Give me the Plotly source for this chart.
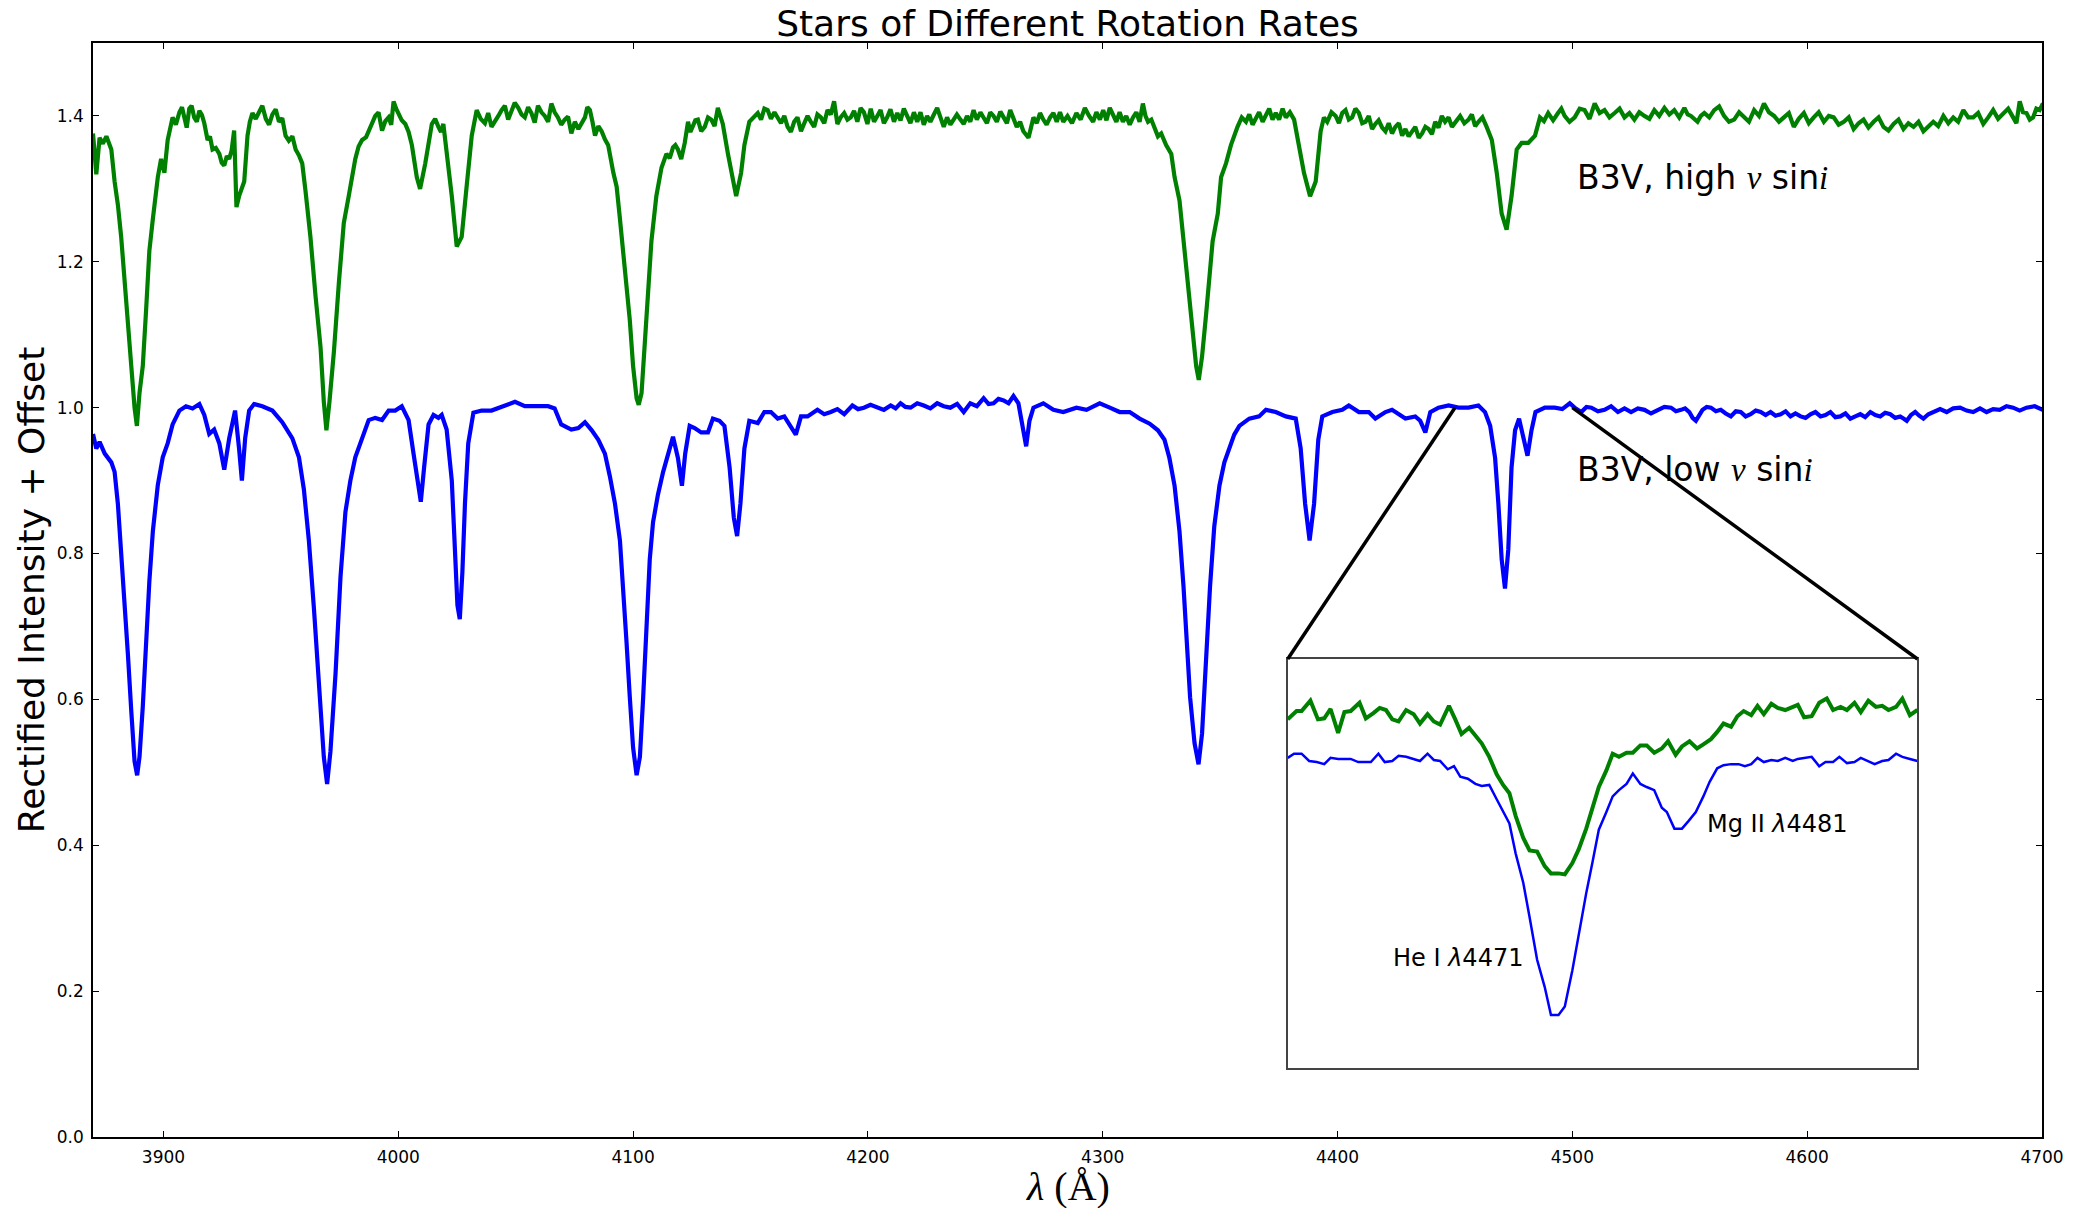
import plotly.graph_objects as go

TITLE = "Stars of Different Rotation Rates"
X_TICKS = [3900, 4000, 4100, 4200, 4300, 4400, 4500, 4600, 4700]
Y_TICKS = [0.0, 0.2, 0.4, 0.6, 0.8, 1.0, 1.2, 1.4]
Y_TICK_TEXT = ["0.0", "0.2", "0.4", "0.6", "0.8", "1.0", "1.2", "1.4"]

# B3V, high v sin i (offset +0.4)
wl_high = [
    3870.0, 3871.4, 3872.8, 3874.2, 3875.7, 3877.8, 3879.2, 3880.6, 3882.0, 3883.4,
    3884.9, 3886.3, 3887.7, 3888.7, 3889.8, 3891.2, 3892.6, 3894.0, 3895.5, 3897.6,
    3899.0, 3900.4, 3901.8, 3903.9, 3905.3, 3906.8, 3907.9, 3908.9, 3909.9, 3911.0,
    3912.0, 3913.1, 3914.2, 3915.3, 3916.4, 3917.4, 3918.8, 3919.8, 3920.9, 3922.3,
    3923.8, 3924.8, 3925.9, 3927.0, 3928.0, 3929.0, 3930.1, 3931.1, 3932.2, 3934.4,
    3935.8, 3936.8, 3937.9, 3939.3, 3940.7, 3942.1, 3943.6, 3945.0, 3946.4, 3947.8,
    3949.2, 3950.6, 3952.0, 3953.4, 3954.9, 3956.3, 3957.7, 3959.1, 3960.5, 3962.6,
    3964.8, 3966.9, 3968.3, 3969.4, 3970.7, 3972.6, 3974.7, 3976.8, 3978.9, 3981.7,
    3983.1, 3984.6, 3986.3, 3988.1, 3989.1, 3990.2, 3991.6, 3993.1, 3994.5, 3995.9,
    3997.0, 3998.0, 3999.1, 4000.1, 4001.5, 4003.0, 4004.4, 4005.8, 4007.9, 4009.3,
    4011.5, 4014.3, 4015.7, 4017.1, 4018.2, 4019.2, 4020.6, 4022.8, 4024.9, 4027.0,
    4029.1, 4031.3, 4033.4, 4035.1, 4036.9, 4038.3, 4039.7, 4041.2, 4042.6, 4044.0,
    4045.4, 4046.8, 4048.2, 4049.6, 4051.1, 4052.5, 4053.9, 4055.3, 4056.7, 4058.1,
    4059.5, 4061.0, 4062.4, 4063.8, 4065.2, 4066.6, 4068.0, 4069.4, 4070.9, 4072.3,
    4073.7, 4075.2, 4076.7, 4078.1, 4079.5, 4080.5, 4081.6, 4082.7, 4083.8, 4085.2,
    4086.6, 4088.0, 4089.4, 4091.6, 4093.0, 4094.4, 4095.8, 4097.2, 4098.6, 4100.0,
    4101.5, 4102.4, 4103.6, 4105.0, 4106.4, 4107.8, 4109.9, 4112.1, 4114.2, 4115.6,
    4117.0, 4118.0, 4119.1, 4120.5, 4122.0, 4123.4, 4124.4, 4125.5, 4126.5, 4127.6,
    4129.0, 4130.5, 4131.9, 4133.3, 4134.7, 4136.1, 4137.1, 4138.2, 4140.4, 4142.1,
    4143.9, 4146.0, 4147.4, 4149.5, 4151.3, 4153.1, 4154.5, 4155.9, 4157.3, 4158.7,
    4160.2, 4161.6, 4163.0, 4164.4, 4165.8, 4167.2, 4168.6, 4170.0, 4171.5, 4172.9,
    4174.3, 4175.7, 4177.1, 4178.5, 4180.0, 4181.4, 4182.8, 4184.2, 4185.6, 4187.0,
    4188.4, 4189.9, 4191.3, 4192.7, 4194.1, 4195.5, 4196.9, 4198.3, 4199.8, 4201.2,
    4202.6, 4204.0, 4205.4, 4206.8, 4208.2, 4209.6, 4211.1, 4212.5, 4213.9, 4215.3,
    4216.7, 4218.1, 4219.6, 4221.0, 4222.4, 4223.8, 4225.2, 4226.6, 4228.1, 4229.5,
    4230.9, 4232.3, 4233.7, 4235.1, 4236.5, 4237.9, 4239.4, 4240.8, 4242.2, 4243.6,
    4245.0, 4246.4, 4247.9, 4249.3, 4250.7, 4252.1, 4253.5, 4254.9, 4256.4, 4257.8,
    4259.2, 4260.6, 4262.0, 4263.4, 4264.8, 4266.2, 4268.4, 4270.5, 4271.9, 4273.3,
    4274.7, 4276.1, 4277.6, 4279.0, 4280.4, 4281.8, 4283.2, 4285.0, 4286.9, 4288.8,
    4290.6, 4292.4, 4294.2, 4295.9, 4297.3, 4298.8, 4300.2, 4301.6, 4303.0, 4304.4,
    4305.8, 4307.2, 4308.6, 4310.0, 4311.5, 4312.9, 4314.3, 4315.7, 4317.1, 4318.2,
    4319.3, 4320.7, 4322.1, 4323.5, 4324.9, 4327.0, 4329.2, 4330.6, 4332.7, 4334.1,
    4335.5, 4336.9, 4338.4, 4339.8, 4340.9, 4342.3, 4344.0, 4345.4, 4346.8, 4349.0,
    4350.4, 4352.5, 4354.6, 4357.4, 4359.2, 4361.0, 4362.4, 4363.8, 4365.2, 4366.6,
    4368.1, 4369.5, 4370.9, 4372.3, 4373.7, 4375.1, 4376.6, 4378.0, 4379.7, 4381.5,
    4383.6, 4385.7, 4388.3, 4390.7, 4392.8, 4394.2, 4395.6, 4397.4, 4399.2, 4400.6,
    4402.0, 4403.4, 4404.8, 4406.2, 4407.6, 4409.1, 4410.5, 4411.9, 4413.3, 4414.7,
    4416.1, 4417.5, 4419.0, 4420.4, 4421.8, 4423.2, 4424.6, 4426.1, 4427.5, 4428.9,
    4430.3, 4431.7, 4433.1, 4434.6, 4436.0, 4437.4, 4438.8, 4440.2, 4441.6, 4443.0,
    4444.4, 4445.8, 4447.3, 4448.7, 4450.5, 4452.2, 4454.0, 4455.8, 4457.2, 4458.6,
    4460.0, 4461.7, 4463.5, 4465.7, 4467.8, 4469.9, 4472.0, 4474.1, 4476.3, 4478.4,
    4481.2, 4484.1, 4486.2, 4487.9, 4489.7, 4491.8, 4493.9, 4495.3, 4496.7, 4498.8,
    4501.0, 4503.1, 4505.2, 4507.3, 4509.5, 4511.6, 4513.7, 4515.8, 4518.0, 4520.1,
    4522.2, 4524.3, 4526.4, 4528.5, 4530.7, 4532.8, 4534.9, 4537.0, 4539.2, 4541.3,
    4543.4, 4545.5, 4547.7, 4549.1, 4550.5, 4551.9, 4553.3, 4554.7, 4556.2, 4558.3,
    4560.4, 4562.5, 4564.6, 4566.7, 4568.9, 4571.0, 4573.1, 4575.2, 4577.4, 4579.5,
    4581.6, 4583.7, 4585.9, 4588.0, 4590.1, 4592.2, 4594.3, 4596.4, 4598.6, 4600.7,
    4602.8, 4604.9, 4607.1, 4609.2, 4611.3, 4613.4, 4615.6, 4617.7, 4619.8, 4621.9,
    4624.0, 4626.1, 4628.3, 4630.4, 4632.5, 4634.6, 4636.8, 4638.9, 4641.0, 4643.1,
    4645.3, 4647.4, 4649.5, 4651.6, 4653.7, 4655.8, 4658.0, 4660.1, 4662.2, 4664.3,
    4666.5, 4668.6, 4670.7, 4672.8, 4675.0, 4677.1, 4679.2, 4681.3, 4683.5, 4685.6,
    4687.7, 4689.1, 4690.5, 4691.9, 4693.4, 4694.8, 4696.2, 4697.6, 4699.0, 4700.4,
]
flux_high = [
    1.376, 1.320, 1.370, 1.362, 1.372, 1.354, 1.310, 1.278, 1.234, 1.171,
    1.120, 1.057, 1.000, 0.975, 1.020, 1.057, 1.133, 1.215, 1.259, 1.316,
    1.341, 1.322, 1.367, 1.398, 1.388, 1.405, 1.412, 1.395, 1.384, 1.410,
    1.414, 1.398, 1.392, 1.407, 1.401, 1.390, 1.367, 1.372, 1.354, 1.356,
    1.348, 1.336, 1.332, 1.345, 1.341, 1.352, 1.380, 1.275, 1.290, 1.310,
    1.373, 1.392, 1.404, 1.396, 1.405, 1.414, 1.396, 1.388, 1.402, 1.409,
    1.392, 1.397, 1.373, 1.366, 1.372, 1.354, 1.346, 1.335, 1.297, 1.234,
    1.152, 1.083, 1.008, 0.969, 1.008, 1.077, 1.171, 1.253, 1.290, 1.341,
    1.358, 1.367, 1.371, 1.385, 1.392, 1.400, 1.405, 1.380, 1.393, 1.398,
    1.388, 1.420, 1.410, 1.404, 1.394, 1.389, 1.378, 1.360, 1.316, 1.300,
    1.335, 1.389, 1.396, 1.385, 1.378, 1.389, 1.354, 1.290, 1.221, 1.234,
    1.303, 1.373, 1.408, 1.396, 1.390, 1.404, 1.385, 1.392, 1.400, 1.408,
    1.414, 1.395, 1.408, 1.418, 1.411, 1.402, 1.398, 1.412, 1.404, 1.391,
    1.414, 1.405, 1.400, 1.392, 1.417, 1.405, 1.398, 1.388, 1.395, 1.399,
    1.376, 1.392, 1.382, 1.390, 1.398, 1.412, 1.408, 1.392, 1.373, 1.386,
    1.379, 1.368, 1.360, 1.322, 1.303, 1.259, 1.215, 1.177, 1.120, 1.057,
    1.013, 1.004, 1.020, 1.089, 1.171, 1.228, 1.290, 1.329, 1.348, 1.342,
    1.357, 1.360, 1.354, 1.341, 1.363, 1.392, 1.378, 1.385, 1.394, 1.395,
    1.379, 1.385, 1.398, 1.395, 1.386, 1.411, 1.398, 1.389, 1.348, 1.316,
    1.290, 1.322, 1.360, 1.392, 1.398, 1.404, 1.395, 1.410, 1.408, 1.396,
    1.405, 1.398, 1.390, 1.400, 1.385, 1.378, 1.392, 1.398, 1.379, 1.390,
    1.400, 1.392, 1.385, 1.402, 1.398, 1.390, 1.408, 1.402, 1.420, 1.389,
    1.398, 1.404, 1.395, 1.398, 1.407, 1.392, 1.411, 1.405, 1.389, 1.410,
    1.392, 1.400, 1.408, 1.390, 1.398, 1.409, 1.392, 1.404, 1.394, 1.410,
    1.398, 1.390, 1.405, 1.392, 1.405, 1.388, 1.400, 1.392, 1.402, 1.411,
    1.398, 1.385, 1.398, 1.388, 1.395, 1.402, 1.395, 1.389, 1.400, 1.392,
    1.408, 1.395, 1.405, 1.398, 1.390, 1.405, 1.400, 1.392, 1.406, 1.398,
    1.390, 1.408, 1.395, 1.385, 1.392, 1.379, 1.370, 1.398, 1.390, 1.404,
    1.395, 1.388, 1.398, 1.404, 1.392, 1.405, 1.392, 1.400, 1.390, 1.404,
    1.395, 1.411, 1.400, 1.392, 1.405, 1.395, 1.408, 1.394, 1.411, 1.400,
    1.392, 1.405, 1.392, 1.400, 1.388, 1.398, 1.405, 1.392, 1.417, 1.400,
    1.392, 1.395, 1.382, 1.372, 1.376, 1.360, 1.348, 1.316, 1.284, 1.240,
    1.196, 1.146, 1.101, 1.057, 1.038, 1.070, 1.127, 1.184, 1.228, 1.266,
    1.316, 1.335, 1.360, 1.385, 1.398, 1.392, 1.402, 1.388, 1.398, 1.405,
    1.392, 1.400, 1.410, 1.395, 1.404, 1.395, 1.410, 1.398, 1.405, 1.395,
    1.360, 1.322, 1.290, 1.310, 1.379, 1.398, 1.392, 1.405, 1.400, 1.390,
    1.404, 1.408, 1.395, 1.398, 1.410, 1.404, 1.390, 1.392, 1.400, 1.382,
    1.389, 1.394, 1.384, 1.379, 1.390, 1.376, 1.385, 1.390, 1.373, 1.382,
    1.372, 1.379, 1.385, 1.370, 1.376, 1.385, 1.382, 1.375, 1.392, 1.384,
    1.400, 1.392, 1.398, 1.385, 1.392, 1.400, 1.390, 1.395, 1.402, 1.386,
    1.392, 1.398, 1.385, 1.367, 1.322, 1.266, 1.244, 1.290, 1.354, 1.363,
    1.363, 1.373, 1.398, 1.393, 1.404, 1.394, 1.404, 1.410, 1.400, 1.392,
    1.398, 1.410, 1.408, 1.396, 1.417, 1.404, 1.408, 1.398, 1.404, 1.410,
    1.398, 1.404, 1.395, 1.405, 1.400, 1.396, 1.408, 1.400, 1.411, 1.402,
    1.408, 1.398, 1.411, 1.402, 1.400, 1.395, 1.392, 1.400, 1.404, 1.398,
    1.408, 1.413, 1.400, 1.392, 1.395, 1.405, 1.398, 1.392, 1.408, 1.400,
    1.417, 1.405, 1.400, 1.392, 1.398, 1.404, 1.385, 1.396, 1.404, 1.390,
    1.398, 1.405, 1.392, 1.400, 1.398, 1.388, 1.392, 1.398, 1.382, 1.390,
    1.395, 1.384, 1.392, 1.398, 1.385, 1.380, 1.389, 1.395, 1.382, 1.390,
    1.385, 1.392, 1.379, 1.386, 1.392, 1.386, 1.400, 1.390, 1.398, 1.392,
    1.408, 1.398, 1.398, 1.404, 1.389, 1.398, 1.408, 1.396, 1.404, 1.410,
    1.398, 1.390, 1.420, 1.405, 1.404, 1.395, 1.398, 1.410, 1.408, 1.417,
]

# B3V, low v sin i
wl_low = [
    3870.0, 3871.4, 3872.8, 3875.0, 3877.8, 3879.2, 3880.6, 3882.0, 3883.4, 3884.9,
    3886.3, 3887.7, 3888.8, 3889.8, 3891.2, 3892.6, 3894.0, 3895.5, 3897.6, 3899.7,
    3901.8, 3903.9, 3906.8, 3909.6, 3912.4, 3915.3, 3917.4, 3919.5, 3921.6, 3923.8,
    3925.9, 3928.0, 3930.5, 3932.2, 3933.4, 3934.8, 3936.5, 3938.6, 3942.1, 3946.4,
    3950.6, 3954.9, 3957.7, 3959.8, 3961.9, 3964.1, 3966.2, 3968.3, 3969.7, 3971.1,
    3973.3, 3975.4, 3977.5, 3979.6, 3981.7, 3984.6, 3987.4, 3990.2, 3993.1, 3995.9,
    3998.7, 4001.5, 4004.4, 4006.5, 4008.3, 4009.6, 4011.0, 4012.9, 4015.0, 4017.1,
    4018.5, 4020.6, 4022.8, 4024.2, 4025.2, 4026.2, 4027.3, 4028.4, 4029.8, 4032.0,
    4035.5, 4039.7, 4045.4, 4049.7, 4053.9, 4058.2, 4063.8, 4066.6, 4069.4, 4073.7,
    4076.7, 4079.5, 4082.4, 4085.2, 4088.0, 4090.1, 4092.3, 4094.4, 4095.8, 4097.2,
    4098.6, 4100.0, 4101.5, 4102.9, 4104.3, 4105.7, 4107.1, 4108.5, 4110.6, 4112.8,
    4114.9, 4117.0, 4119.1, 4120.8, 4122.2, 4124.1, 4126.2, 4129.0, 4131.9, 4134.0,
    4136.8, 4138.9, 4141.1, 4142.9, 4144.3, 4145.7, 4147.4, 4149.5, 4153.1, 4155.9,
    4158.7, 4161.6, 4164.4, 4167.2, 4169.3, 4171.5, 4174.3, 4178.5, 4181.4, 4184.2,
    4187.0, 4189.9, 4191.6, 4193.4, 4195.8, 4198.3, 4201.1, 4204.0, 4206.8, 4209.7,
    4211.8, 4213.9, 4216.0, 4218.2, 4221.0, 4223.8, 4226.6, 4229.5, 4232.3, 4235.1,
    4238.0, 4240.8, 4243.6, 4246.4, 4249.3, 4251.4, 4253.5, 4255.6, 4257.8, 4259.9,
    4262.0, 4264.1, 4266.2, 4267.4, 4268.8, 4270.5, 4274.7, 4279.0, 4283.2, 4288.8,
    4293.1, 4298.7, 4303.0, 4307.2, 4311.5, 4315.7, 4320.0, 4323.5, 4326.3, 4328.4,
    4330.6, 4332.7, 4334.4, 4335.8, 4337.2, 4339.1, 4340.8, 4342.3, 4344.0, 4345.7,
    4347.5, 4349.7, 4351.8, 4353.9, 4356.0, 4358.2, 4362.4, 4366.6, 4369.5, 4373.7,
    4378.0, 4382.2, 4384.3, 4386.2, 4388.1, 4390.0, 4391.8, 4393.5, 4397.8, 4402.0,
    4404.8, 4409.1, 4413.3, 4416.1, 4420.4, 4423.2, 4426.1, 4428.9, 4433.1, 4435.2,
    4437.4, 4439.5, 4443.0, 4447.3, 4451.5, 4455.8, 4460.0, 4462.8, 4465.0, 4467.1,
    4468.5, 4469.9, 4471.3, 4472.7, 4474.1, 4475.6, 4477.3, 4479.1, 4480.9, 4482.6,
    4484.3, 4488.3, 4492.5, 4495.7, 4498.9, 4501.3, 4503.8, 4506.0, 4508.1, 4510.9,
    4513.7, 4516.5, 4519.4, 4522.2, 4525.0, 4527.9, 4530.7, 4533.5, 4536.3, 4539.2,
    4542.0, 4544.1, 4546.3, 4548.0, 4549.8, 4551.2, 4552.6, 4554.0, 4555.4, 4557.2,
    4559.0, 4561.1, 4563.2, 4565.3, 4567.5, 4569.6, 4571.7, 4573.8, 4575.9, 4578.1,
    4580.2, 4582.3, 4584.4, 4586.5, 4588.7, 4590.8, 4592.9, 4595.0, 4597.2, 4599.3,
    4601.4, 4603.5, 4605.7, 4607.8, 4609.9, 4612.0, 4614.1, 4616.3, 4618.4, 4620.5,
    4622.6, 4624.7, 4626.9, 4629.0, 4631.1, 4633.2, 4635.4, 4637.5, 4639.6, 4641.0,
    4642.4, 4644.2, 4646.0, 4647.7, 4649.5, 4651.6, 4653.7, 4656.6, 4659.4, 4662.2,
    4665.1, 4667.9, 4670.7, 4673.6, 4676.4, 4679.2, 4682.0, 4684.9, 4687.7, 4690.5,
    4693.4, 4696.9, 4700.4,
]
flux_low = [
    0.964, 0.944, 0.953, 0.937, 0.925, 0.912, 0.868, 0.805, 0.742, 0.660,
    0.584, 0.515, 0.496, 0.521, 0.590, 0.680, 0.762, 0.831, 0.894, 0.932,
    0.951, 0.977, 0.996, 1.002, 0.999, 1.005, 0.990, 0.964, 0.970, 0.951,
    0.915, 0.958, 0.996, 0.944, 0.900, 0.958, 0.996, 1.005, 1.002, 0.996,
    0.980, 0.958, 0.932, 0.888, 0.819, 0.724, 0.617, 0.521, 0.484, 0.528,
    0.636, 0.768, 0.857, 0.900, 0.932, 0.958, 0.983, 0.986, 0.983, 0.996,
    0.996, 1.002, 0.983, 0.937, 0.894, 0.871, 0.918, 0.977, 0.990, 0.986,
    0.990, 0.970, 0.900, 0.805, 0.729, 0.710, 0.774, 0.868, 0.951, 0.993,
    0.996, 0.996, 1.002, 1.008, 1.002, 1.002, 1.002, 0.999, 0.977, 0.970,
    0.972, 0.980, 0.969, 0.956, 0.937, 0.906, 0.868, 0.818, 0.755, 0.679,
    0.603, 0.534, 0.496, 0.521, 0.603, 0.710, 0.792, 0.843, 0.881, 0.912,
    0.937, 0.960, 0.931, 0.893, 0.937, 0.975, 0.972, 0.966, 0.966, 0.985,
    0.982, 0.975, 0.918, 0.849, 0.824, 0.868, 0.944, 0.982, 0.979, 0.994,
    0.994, 0.985, 0.988, 0.975, 0.963, 0.988, 0.988, 0.997, 0.991, 0.994,
    0.998, 0.991, 0.996, 1.003, 0.998, 1.000, 1.004, 1.000, 0.997, 1.003,
    0.999, 1.006, 1.001, 1.000, 1.006, 1.003, 0.999, 1.006, 1.002, 1.000,
    1.005, 0.994, 1.006, 1.002, 1.013, 1.005, 1.006, 1.012, 1.010, 1.006,
    1.016, 1.006, 0.969, 0.947, 0.982, 1.000, 1.006, 0.997, 0.994, 1.000,
    0.997, 1.006, 1.000, 0.994, 0.994, 0.985, 0.978, 0.969, 0.956, 0.931,
    0.893, 0.830, 0.755, 0.679, 0.603, 0.540, 0.511, 0.553, 0.660, 0.755,
    0.837, 0.893, 0.925, 0.944, 0.963, 0.975, 0.985, 0.988, 0.997, 0.994,
    0.988, 0.985, 0.944, 0.868, 0.818, 0.868, 0.956, 0.988, 0.994, 0.997,
    1.003, 0.994, 0.994, 0.985, 0.994, 0.997, 0.991, 0.985, 0.988, 0.982,
    0.966, 0.994, 1.000, 1.003, 1.000, 1.000, 1.003, 0.994, 0.975, 0.931,
    0.868, 0.792, 0.752, 0.805, 0.918, 0.969, 0.985, 0.956, 0.934, 0.969,
    0.994, 1.000, 1.000, 0.998, 1.006, 0.999, 0.994, 1.001, 1.000, 0.995,
    0.997, 1.002, 0.994, 0.999, 0.994, 0.999, 0.997, 0.992, 0.997, 1.001,
    1.000, 0.995, 0.997, 0.999, 0.994, 0.986, 0.982, 0.990, 0.997, 1.001,
    1.000, 0.995, 0.997, 0.992, 0.988, 0.995, 0.994, 0.988, 0.991, 0.996,
    0.994, 0.990, 0.994, 0.989, 0.991, 0.995, 0.988, 0.992, 0.988, 0.986,
    0.991, 0.994, 0.988, 0.990, 0.994, 0.987, 0.988, 0.992, 0.985, 0.988,
    0.991, 0.987, 0.994, 0.990, 0.988, 0.993, 0.991, 0.986, 0.988, 0.985,
    0.982, 0.990, 0.994, 0.989, 0.985, 0.991, 0.994, 0.998, 0.994, 0.999,
    1.000, 0.996, 0.994, 0.999, 0.994, 0.998, 0.997, 1.002, 1.000, 0.996,
    1.000, 1.002, 0.997,
]

# Inset: He I 4471 / Mg II 4481 region
zoom_wl_high = [
    4450.0, 4450.7, 4451.1, 4451.8, 4452.4, 4452.9, 4453.4, 4454.0, 4454.5, 4455.0,
    4455.7, 4456.2, 4456.8, 4457.3, 4457.8, 4458.3, 4458.8, 4459.4, 4460.0, 4460.5,
    4461.1, 4461.6, 4462.1, 4462.8, 4463.3, 4463.8, 4464.4, 4464.9, 4465.4, 4466.0,
    4466.6, 4467.1, 4467.6, 4468.1, 4468.7, 4469.2, 4469.8, 4470.4, 4470.9, 4471.5,
    4472.0, 4472.6, 4473.1, 4473.7, 4474.2, 4474.7, 4475.3, 4475.8, 4476.3, 4476.9,
    4477.4, 4478.0, 4478.5, 4479.1, 4479.7, 4480.2, 4480.8, 4481.3, 4481.9, 4482.5,
    4483.0, 4483.6, 4484.1, 4484.6, 4485.2, 4485.7, 4486.2, 4486.8, 4487.3, 4487.8,
    4488.4, 4488.9, 4489.5, 4490.0, 4490.5, 4491.0, 4491.6, 4492.2, 4492.8, 4493.3,
    4493.9, 4494.4, 4495.0, 4495.5, 4496.1, 4496.7, 4497.2, 4497.7, 4498.3, 4498.8,
    4499.4, 4500.0,
]
zoom_flux_high = [
    1.036, 1.044, 1.044, 1.054, 1.036, 1.037, 1.046, 1.023, 1.043, 1.044,
    1.052, 1.037, 1.042, 1.047, 1.045, 1.036, 1.034, 1.045, 1.041, 1.032,
    1.041, 1.034, 1.031, 1.049, 1.036, 1.022, 1.028, 1.020, 1.013, 1.000,
    0.983, 0.973, 0.965, 0.943, 0.922, 0.910, 0.909, 0.895, 0.888, 0.888,
    0.887, 0.898, 0.911, 0.931, 0.952, 0.971, 0.987, 1.003, 1.000, 1.004,
    1.004, 1.011, 1.011, 1.004, 1.008, 1.015, 1.002, 1.010, 1.015, 1.008,
    1.012, 1.017, 1.024, 1.032, 1.029, 1.039, 1.044, 1.040, 1.049, 1.041,
    1.051, 1.047, 1.045, 1.048, 1.050, 1.038, 1.039, 1.052, 1.056, 1.045,
    1.048, 1.045, 1.052, 1.043, 1.054, 1.048, 1.049, 1.045, 1.048, 1.056,
    1.040, 1.045,
]
zoom_wl_low = [
    4450.0, 4450.5, 4451.1, 4451.7, 4452.3, 4452.9, 4453.4, 4454.0, 4454.5, 4455.0,
    4455.6, 4456.1, 4456.6, 4457.2, 4457.7, 4458.3, 4458.8, 4459.4, 4460.0, 4460.5,
    4461.1, 4461.6, 4462.1, 4462.7, 4463.2, 4463.7, 4464.3, 4464.9, 4465.4, 4466.0,
    4466.6, 4467.1, 4467.6, 4468.1, 4468.7, 4469.2, 4469.8, 4470.4, 4470.9, 4471.5,
    4472.0, 4472.6, 4473.1, 4473.7, 4474.2, 4474.7, 4475.3, 4475.8, 4476.3, 4476.9,
    4477.4, 4478.0, 4478.5, 4479.1, 4479.7, 4480.1, 4480.7, 4481.3, 4481.8, 4482.4,
    4483.0, 4483.5, 4484.1, 4484.6, 4485.2, 4485.8, 4486.3, 4486.8, 4487.3, 4487.8,
    4488.4, 4488.9, 4489.5, 4490.1, 4490.5, 4491.0, 4491.6, 4492.2, 4492.7, 4493.3,
    4493.8, 4494.4, 4495.0, 4495.5, 4496.1, 4496.6, 4497.2, 4497.7, 4498.3, 4498.8,
    4499.4, 4500.0,
]
zoom_flux_low = [
    0.999, 1.003, 1.003, 0.996, 0.995, 0.993, 0.999, 0.998, 0.998, 0.998,
    0.995, 0.995, 0.995, 1.003, 0.995, 0.996, 1.001, 1.000, 0.998, 0.996,
    1.003, 0.997, 0.996, 0.988, 0.991, 0.981, 0.979, 0.974, 0.972, 0.973,
    0.959, 0.947, 0.936, 0.907, 0.879, 0.846, 0.805, 0.779, 0.752, 0.752,
    0.760, 0.795, 0.830, 0.869, 0.899, 0.930, 0.947, 0.962, 0.968, 0.974,
    0.984, 0.974, 0.971, 0.968, 0.951, 0.947, 0.931, 0.931, 0.938, 0.947,
    0.962, 0.976, 0.989, 0.992, 0.993, 0.993, 0.991, 0.993, 0.999, 0.995,
    0.997, 0.996, 0.999, 0.996, 0.998, 0.999, 1.000, 0.991, 0.995, 0.995,
    1.000, 0.994, 0.995, 0.999, 0.996, 0.993, 0.996, 0.997, 1.003, 1.000,
    0.998, 0.996,
]

X_RANGE = [3870, 4700]
Y_RANGE = [0.0, 1.5]
ZOOM_X_RANGE = [4450, 4500]
ZOOM_Y_RANGE = [0.701, 1.094]
INSET_X_DOMAIN = [0.613, 0.9361]
INSET_Y_DOMAIN = [0.0631, 0.4369]

GREEN = "#008000"
BLUE = "#0000ff"
FONT = "DejaVu Sans"
SERIF = "Liberation Serif"

MARGIN_L, MARGIN_R, MARGIN_T, MARGIN_B = 93, 27, 43, 71
PLOT_W = 2076 - MARGIN_L - MARGIN_R
PLOT_H = 1208 - MARGIN_T - MARGIN_B

fig = go.Figure()
fig.add_trace(go.Scatter(x=wl_high, y=flux_high, mode="lines",
                         line=dict(color=GREEN, width=4.2), xaxis="x", yaxis="y"))
fig.add_trace(go.Scatter(x=wl_low, y=flux_low, mode="lines",
                         line=dict(color=BLUE, width=4.2), xaxis="x", yaxis="y"))
fig.add_trace(go.Scatter(x=zoom_wl_high, y=zoom_flux_high, mode="lines",
                         line=dict(color=GREEN, width=4.0), xaxis="x2", yaxis="y2"))
fig.add_trace(go.Scatter(x=zoom_wl_low, y=zoom_flux_low, mode="lines",
                         line=dict(color=BLUE, width=2.5), xaxis="x2", yaxis="y2"))

axis_common = dict(showgrid=False, zeroline=False, showline=True, linecolor="black",
                   linewidth=1.5, mirror="ticks", ticks="inside", ticklen=6,
                   tickwidth=1, tickcolor="black", ticklabelstandoff=4,
                   tickfont=dict(family=FONT, size=17, color="black"))

fig.update_layout(
    width=2076, height=1208,
    margin=dict(l=MARGIN_L, r=MARGIN_R, t=MARGIN_T, b=MARGIN_B),
    paper_bgcolor="white", plot_bgcolor="white",
    showlegend=False,
    xaxis=dict(range=X_RANGE, domain=[0, 1], tickvals=X_TICKS,
               ticktext=[str(v) for v in X_TICKS], **axis_common),
    yaxis=dict(range=Y_RANGE, domain=[0, 1], tickvals=Y_TICKS, ticktext=Y_TICK_TEXT,
               **axis_common),
    xaxis2=dict(range=ZOOM_X_RANGE, domain=INSET_X_DOMAIN, anchor="y2",
                showticklabels=False, ticks="", showgrid=False, zeroline=False,
                showline=True, mirror=True, linecolor="#444444", linewidth=2),
    yaxis2=dict(range=ZOOM_Y_RANGE, domain=INSET_Y_DOMAIN, anchor="x2",
                showticklabels=False, ticks="", showgrid=False, zeroline=False,
                showline=True, mirror=True, linecolor="#444444", linewidth=2),
    title=dict(text=TITLE, x=0.5, xref="paper", xanchor="center",
               y=1 - 23 / 1208, yref="container", yanchor="middle",
               font=dict(family=FONT, size=36, color="black")),
)

# connector lines from the zoomed wavelength window to the inset's top corners
def main_x_at(frac):
    return X_RANGE[0] + frac * (X_RANGE[1] - X_RANGE[0])

def main_y_at(frac):
    return Y_RANGE[0] + frac * (Y_RANGE[1] - Y_RANGE[0])

inset_top = main_y_at(INSET_Y_DOMAIN[1])
for x_start, frac in [(ZOOM_X_RANGE[0], INSET_X_DOMAIN[0]), (ZOOM_X_RANGE[1], INSET_X_DOMAIN[1])]:
    fig.add_shape(type="line", xref="x", yref="y", x0=x_start, y0=1.0,
                  x1=main_x_at(frac), y1=inset_top,
                  line=dict(color="black", width=3.5))

vsini = ("<i><span style=\"font-family:'Liberation Serif'\">v</span></i> sin"
         "<i><span style=\"font-family:'Liberation Serif'\">i</span></i>")
annotations = [
    dict(text="B3V, high " + vsini, x=4501, y=1.315, xref="x", yref="y",
         xanchor="left", yanchor="middle", showarrow=False,
         font=dict(family=FONT, size=33, color="black")),
    dict(text="B3V, low " + vsini, x=4501, y=0.915, xref="x", yref="y",
         xanchor="left", yanchor="middle", showarrow=False,
         font=dict(family=FONT, size=33, color="black")),
    dict(text="He I <i>λ</i>4471", x=4458.2, y=0.807, xref="x2", yref="y2",
         xanchor="left", yanchor="middle", showarrow=False,
         font=dict(family=FONT, size=24, color="black")),
    dict(text="Mg II <i>λ</i>4481", x=4483.1, y=0.935, xref="x2", yref="y2",
         xanchor="left", yanchor="middle", showarrow=False,
         font=dict(family=FONT, size=24, color="black")),
    dict(text="<i>λ</i> (Å)", x=0.5, y=-(1186 - 1137) / PLOT_H, xref="paper", yref="paper",
         xanchor="center", yanchor="middle", showarrow=False,
         font=dict(family=SERIF, size=40, color="black")),
    dict(text="Rectified Intensity + Offset", x=-(MARGIN_L - 31) / PLOT_W, y=0.5,
         xref="paper", yref="paper", xanchor="center", yanchor="middle",
         textangle=-90, showarrow=False,
         font=dict(family=FONT, size=36, color="black")),
]
fig.update_layout(annotations=annotations)

fig.write_html("out.html")
